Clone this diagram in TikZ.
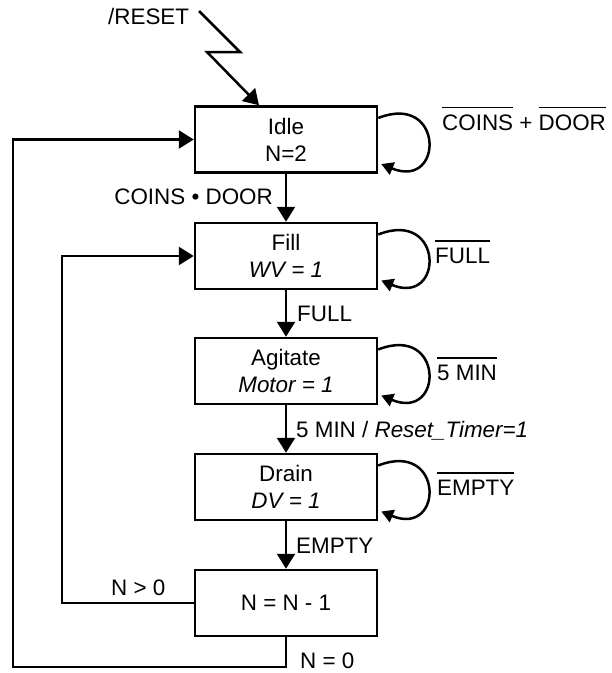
\documentclass[tikz,border=0pt]{standalone}
\usepackage{fontspec}
\setmainfont{Liberation Sans}
\usetikzlibrary{arrows.meta}
\newcommand\ovl[1]{\vbox{\hrule height 1.7pt\kern 6pt\hbox{#1}}}
\begin{document}
\begin{tikzpicture}[x=1pt,y=-1pt,
  every node/.style={font=\fontsize{22.4}{27}\selectfont, inner sep=0pt},
  box/.style={draw, line width=2.5pt, minimum width=182pt, minimum height=66pt, align=center},
  conn/.style={line width=2.5pt, -{Triangle[length=15pt,width=18pt]}},
  loopc/.style={line width=2.5pt, -{Triangle[length=12pt,width=13pt]}}]
\useasboundingbox (0,0) rectangle (612,673);

\node[box] (idle)  at (286,139.5) {Idle\\N=2};
\node[box] (fill)  at (286,256) {Fill\\\textit{WV = 1}};
\node[box] (agit)  at (286,371) {Agitate\\\textit{Motor = 1}};
\node[box] (drain) at (286,487) {Drain\\\textit{DV = 1}};
\node[box] (dec)   at (286,603) {N = N - 1};

% reset
\coordinate (r0) at (199,11);
\coordinate (r1) at (240,52);
\coordinate (r2) at (207,52);
\node[anchor=base west] (reset) at (108,24) {/RESET};
\draw[conn] (r0) -- (r1) -- (r2) -- ([xshift=-27pt]idle.north);

% vertical transitions
\draw[conn] (idle) -- (fill);
\draw[conn] (fill) -- (agit);
\draw[conn] (agit) -- (drain);
\draw[conn] (drain) -- (dec);

\node[anchor=base east] (l1) at (273,204) {COINS • DOOR};
\node[anchor=base west] (l2) at (297,321) {FULL};
\node[anchor=base west] (l3) at (296,437) {5 MIN / \textit{Reset\_Timer=1}};
\node[anchor=base west] (l4) at (296,553) {EMPTY};

% self loops
\foreach \n in {idle,fill,agit,drain}{
  \draw[loopc] ([yshift=21.5pt]\n.east) .. controls +(66,-26) and +(63,26) .. ([xshift=3pt,yshift=-24.5pt]\n.east);
}
\node[anchor=base west] (s1) at (442,130) {\ovl{COINS} + \ovl{DOOR}};
\node[anchor=base west] (s2) at (435,263) {\ovl{FULL}};
\node[anchor=base west] (s3) at (437,380) {\ovl{5 MIN}};
\node[anchor=base west] (s4) at (437,495) {\ovl{EMPTY}};

% feedback
\coordinate (c1) at (13,667);
\coordinate (c2) at (62,603);
\draw[conn] (dec.south) |- (c1) |- (idle.west);
\draw[conn] (dec.west) -- (c2) |- (fill.west);
\node[anchor=base west] (g1) at (111,595) {N > 0};
\node[anchor=base west] (g2) at (300,668.5) {N = 0};
\end{tikzpicture}
\end{document}
